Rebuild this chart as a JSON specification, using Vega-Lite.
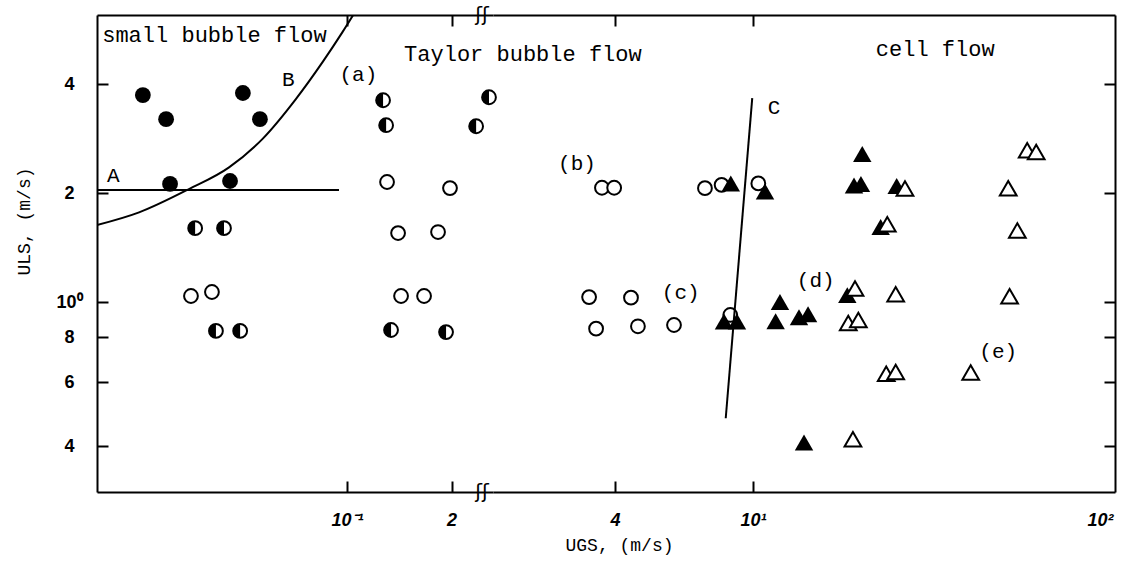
{
  "$schema": "https://vega.github.io/schema/vega-lite/v6.json",
  "autosize": {"type": "pad"},
  "padding": {"left": 15, "top": 5, "right": 5, "bottom": 5},
  "background": "white",
  "spacing": 0,
  "bounds": "flush",
  "datasets": {
    "pts": [
      {"seg": "L", "type": "full", "x": 0.0258, "y": 3.73},
      {"seg": "L", "type": "full", "x": 0.0301, "y": 3.20},
      {"seg": "L", "type": "full", "x": 0.0501, "y": 3.78},
      {"seg": "L", "type": "full", "x": 0.0561, "y": 3.20},
      {"seg": "L", "type": "full", "x": 0.0309, "y": 2.12},
      {"seg": "L", "type": "full", "x": 0.0460, "y": 2.16},
      {"seg": "L", "type": "half", "x": 0.0365, "y": 1.60},
      {"seg": "L", "type": "half", "x": 0.0442, "y": 1.60},
      {"seg": "L", "type": "half", "x": 0.0419, "y": 0.832},
      {"seg": "L", "type": "half", "x": 0.0492, "y": 0.832},
      {"seg": "L", "type": "half", "x": 0.127, "y": 3.61},
      {"seg": "L", "type": "half", "x": 0.1296, "y": 3.08},
      {"seg": "L", "type": "half", "x": 0.2565, "y": 3.68},
      {"seg": "L", "type": "half", "x": 0.2355, "y": 3.06},
      {"seg": "L", "type": "half", "x": 0.1339, "y": 0.837},
      {"seg": "L", "type": "half", "x": 0.1929, "y": 0.826},
      {"seg": "L", "type": "open", "x": 0.0355, "y": 1.039},
      {"seg": "L", "type": "open", "x": 0.0408, "y": 1.066},
      {"seg": "L", "type": "open", "x": 0.1304, "y": 2.146},
      {"seg": "L", "type": "open", "x": 0.198, "y": 2.065},
      {"seg": "L", "type": "open", "x": 0.1403, "y": 1.551},
      {"seg": "L", "type": "open", "x": 0.1829, "y": 1.561},
      {"seg": "L", "type": "open", "x": 0.1431, "y": 1.039},
      {"seg": "L", "type": "open", "x": 0.1667, "y": 1.039},
      {"seg": "R", "type": "open", "x": 3.67, "y": 2.069},
      {"seg": "R", "type": "open", "x": 3.98, "y": 2.069},
      {"seg": "R", "type": "open", "x": 7.27, "y": 2.064},
      {"seg": "R", "type": "open", "x": 8.12, "y": 2.108},
      {"seg": "R", "type": "open", "x": 10.36, "y": 2.127},
      {"seg": "R", "type": "open", "x": 3.37, "y": 1.032},
      {"seg": "R", "type": "open", "x": 4.45, "y": 1.028},
      {"seg": "R", "type": "open", "x": 3.53, "y": 0.844},
      {"seg": "R", "type": "open", "x": 4.66, "y": 0.857},
      {"seg": "R", "type": "open", "x": 5.92, "y": 0.864},
      {"seg": "R", "type": "open", "x": 8.6, "y": 0.921},
      {"seg": "R", "type": "tri", "x": 8.63, "y": 2.125},
      {"seg": "R", "type": "tri", "x": 10.83, "y": 2.021},
      {"seg": "R", "type": "tri", "x": 8.25, "y": 0.884},
      {"seg": "R", "type": "tri", "x": 8.99, "y": 0.884},
      {"seg": "R", "type": "tri", "x": 11.62, "y": 0.885},
      {"seg": "R", "type": "tri", "x": 11.96, "y": 1.0},
      {"seg": "R", "type": "tri", "x": 13.57, "y": 0.908},
      {"seg": "R", "type": "tri", "x": 14.41, "y": 0.925},
      {"seg": "R", "type": "tri", "x": 14.03, "y": 0.409},
      {"seg": "R", "type": "tri", "x": 18.7, "y": 1.045},
      {"seg": "R", "type": "tri", "x": 20.65, "y": 2.563},
      {"seg": "R", "type": "tri", "x": 19.55, "y": 2.098},
      {"seg": "R", "type": "tri", "x": 20.47, "y": 2.118},
      {"seg": "R", "type": "tri", "x": 25.95, "y": 2.093},
      {"seg": "R", "type": "tri", "x": 23.33, "y": 1.612},
      {"seg": "R", "type": "otri", "x": 27.42, "y": 2.059},
      {"seg": "R", "type": "otri", "x": 24.38, "y": 1.640},
      {"seg": "R", "type": "otri", "x": 19.68, "y": 1.090},
      {"seg": "R", "type": "otri", "x": 25.78, "y": 1.051},
      {"seg": "R", "type": "otri", "x": 18.82, "y": 0.875},
      {"seg": "R", "type": "otri", "x": 20.12, "y": 0.892},
      {"seg": "R", "type": "otri", "x": 24.21, "y": 0.634},
      {"seg": "R", "type": "otri", "x": 25.78, "y": 0.641},
      {"seg": "R", "type": "otri", "x": 42.41, "y": 0.639},
      {"seg": "R", "type": "otri", "x": 19.41, "y": 0.418},
      {"seg": "R", "type": "otri", "x": 54.4, "y": 2.064},
      {"seg": "R", "type": "otri", "x": 57.8, "y": 1.577},
      {"seg": "R", "type": "otri", "x": 54.9, "y": 1.038},
      {"seg": "R", "type": "otri", "x": 61.7, "y": 2.625},
      {"seg": "R", "type": "otri", "x": 65.5, "y": 2.597}
    ],
    "lines": [
      {"seg": "L", "line": "A", "ord": 1, "x": 0.01903, "y": 2.04},
      {"seg": "L", "line": "A", "ord": 2, "x": 0.0948, "y": 2.04},
      {"seg": "L", "line": "B", "ord": 1, "x": 0.01903, "y": 1.632},
      {"seg": "L", "line": "B", "ord": 2, "x": 0.02516, "y": 1.769},
      {"seg": "L", "line": "B", "ord": 3, "x": 0.03504, "y": 2.052},
      {"seg": "L", "line": "B", "ord": 4, "x": 0.0457, "y": 2.356},
      {"seg": "L", "line": "B", "ord": 5, "x": 0.057, "y": 2.82},
      {"seg": "L", "line": "B", "ord": 6, "x": 0.0712, "y": 3.638},
      {"seg": "L", "line": "B", "ord": 7, "x": 0.0849, "y": 4.594},
      {"seg": "L", "line": "B", "ord": 8, "x": 0.0969, "y": 5.56},
      {"seg": "L", "line": "B", "ord": 9, "x": 0.1062, "y": 6.4},
      {"seg": "R", "line": "C", "ord": 1, "x": 9.95, "y": 3.66},
      {"seg": "R", "line": "C", "ord": 2, "x": 8.345, "y": 0.4775}
    ],
    "regions": [
      {"seg": "L", "text": "small bubble flow", "x": 0.0197, "y": 5.47},
      {"seg": "L", "text": "Taylor bubble flow", "x": 0.146, "y": 4.84},
      {"seg": "R", "text": "cell flow", "x": 22.6, "y": 5.0}
    ],
    "tags": [
      {"seg": "L", "text": "(a)", "x": 0.1078, "y": 4.24},
      {"seg": "L", "text": "A", "x": 0.0212, "y": 2.235},
      {"seg": "L", "text": "B", "x": 0.0677, "y": 4.11},
      {"seg": "R", "text": "(b)", "x": 3.11, "y": 2.41},
      {"seg": "R", "text": "(c)", "x": 6.19, "y": 1.056},
      {"seg": "R", "text": "(d)", "x": 15.16, "y": 1.146},
      {"seg": "R", "text": "(e)", "x": 50.9, "y": 0.727},
      {"seg": "R", "text": "C", "x": 11.5, "y": 3.43}
    ],
    "brk": [
      {"x": 0.245, "y": 0.2986},
      {"x": 0.245, "y": 6.21}
    ]
  },
  "hconcat": [
    {
      "width": 396,
      "height": 477,
      "encoding": {
        "x": {"field": "x", "type": "quantitative", "scale": {"type": "log", "domain": [0.01903, 0.2634], "nice": false}, "axis": null},
        "y": {
          "field": "y", "type": "quantitative",
          "scale": {"type": "log", "domain": [0.2986, 6.21], "nice": false},
          "axis": {
            "orient": "left", "values": [0.4, 0.6, 0.8, 1, 2, 4], "tickSize": -11, "labelPadding": 39,
            "labelAlign": "center",
            "labelExpr": "datum.value === 1 ? '10⁰' : datum.value > 1 ? format(datum.value, 'd') : format(datum.value * 10, '.0f')",
            "title": "ULS, (m/s)", "titleX": -73, "titleY": 206, "titleAlign": "center", "titleBaseline": "middle"
          }
        }
      },
      "layer": [
        {
          "data": {"name": "pts"},
          "transform": [{"filter": "datum.seg === 'L' && datum.type !== 'full'"}],
          "mark": {"type": "point", "shape": "circle", "filled": true, "fill": "white", "stroke": "black", "strokeWidth": 2, "size": 190, "opacity": 1},
          "encoding": {
            "x": {"field": "x", "type": "quantitative", "scale": {"type": "log", "domain": [0.01903, 0.2634], "nice": false},
              "axis": {
                "orient": "bottom", "values": [0.1, 0.2], "tickSize": -11, "labelPadding": 30, "labelFontStyle": "italic",
                "labelExpr": "datum.value === 0.1 ? '10⁻¹' : '2'",
                "title": "UGS, (m/s)", "titleX": 522, "titleY": 44, "titleAlign": "center", "titleBaseline": "top"
              }}
          }
        },
        {
          "data": {"name": "pts"},
          "transform": [{"filter": "datum.seg === 'L' && datum.type === 'full'"}],
          "mark": {"type": "point", "shape": "circle", "filled": true, "color": "black", "size": 250, "opacity": 1}
        },
        {
          "data": {"name": "pts"},
          "transform": [{"filter": "datum.seg === 'L' && datum.type === 'half'"}],
          "mark": {"type": "point", "shape": "M0,-1A1,1,0,0,0,0,1Z", "filled": true, "color": "black", "size": 190, "opacity": 1}
        },
        {
          "data": {"name": "lines"},
          "transform": [{"filter": "datum.seg === 'L'"}],
          "mark": {"type": "line", "color": "black", "strokeWidth": 2, "clip": true, "interpolate": "monotone"},
          "encoding": {
            "x": {"field": "x", "type": "quantitative", "scale": {"type": "log", "domain": [0.01903, 0.2634], "nice": false},
              "axis": {"orient": "top", "values": [0.1, 0.2], "tickSize": -11, "labels": false, "title": null}},
            "detail": {"field": "line"},
            "order": {"field": "ord"}
          }
        },
        {
          "data": {"name": "regions"},
          "transform": [{"filter": "datum.seg === 'L'"}],
          "mark": {"type": "text", "align": "left", "baseline": "middle", "font": "Liberation Mono", "fontSize": 22, "color": "black"},
          "encoding": {"text": {"field": "text"}}
        },
        {
          "data": {"name": "tags"},
          "transform": [{"filter": "datum.seg === 'L'"}],
          "mark": {"type": "text", "align": "center", "baseline": "middle", "font": "Liberation Mono", "fontSize": 21, "color": "black"},
          "encoding": {"text": {"field": "text"}}
        },
        {
          "data": {"name": "brk"},
          "mark": {"type": "text", "align": "center", "baseline": "middle", "font": "DejaVu Sans", "fontSize": 20, "color": "black", "text": "ʃʃ"}
        }
      ],
      "resolve": {"axis": {"x": "independent"}}
    },
    {
      "width": 622,
      "height": 477,
      "encoding": {
        "x": {"field": "x", "type": "quantitative", "scale": {"type": "log", "domain": [1.781, 110.5], "nice": false}, "axis": null},
        "y": {
          "field": "y", "type": "quantitative",
          "scale": {"type": "log", "domain": [0.2986, 6.21], "nice": false},
          "axis": {"orient": "right", "values": [0.4, 0.6, 0.8, 1, 2, 4], "tickSize": -11, "labels": false, "title": null}
        }
      },
      "layer": [
        {
          "data": {"name": "pts"},
          "transform": [{"filter": "datum.seg === 'R' && datum.type === 'open'"}],
          "mark": {"type": "point", "shape": "circle", "filled": true, "fill": "white", "stroke": "black", "strokeWidth": 2, "size": 190, "opacity": 1},
          "encoding": {
            "x": {"field": "x", "type": "quantitative", "scale": {"type": "log", "domain": [1.781, 110.5], "nice": false},
              "axis": {
                "orient": "bottom", "values": [4, 10, 100], "tickSize": -11, "labelPadding": 30, "labelFontStyle": "italic",
                "tickColor": {"condition": {"test": "datum.value === 100", "value": "transparent"}, "value": "black"},
                "labelExpr": "datum.value === 10 ? '10¹' : datum.value === 100 ? '10²' : '4'",
                "title": null
              }}
          }
        },
        {
          "data": {"name": "pts"},
          "transform": [{"filter": "datum.seg === 'R' && datum.type === 'tri'"}],
          "mark": {"type": "point", "shape": "triangle-up", "filled": true, "color": "black", "size": 340, "opacity": 1}
        },
        {
          "data": {"name": "pts"},
          "transform": [{"filter": "datum.seg === 'R' && datum.type === 'otri'"}],
          "mark": {"type": "point", "shape": "triangle-up", "filled": true, "fill": "white", "stroke": "black", "strokeWidth": 2, "size": 280, "opacity": 1}
        },
        {
          "data": {"name": "lines"},
          "transform": [{"filter": "datum.seg === 'R'"}],
          "mark": {"type": "line", "color": "black", "strokeWidth": 2, "clip": true},
          "encoding": {
            "x": {"field": "x", "type": "quantitative", "scale": {"type": "log", "domain": [1.781, 110.5], "nice": false},
              "axis": {"orient": "top", "values": [4, 10], "tickSize": -11, "labels": false, "title": null}},
            "detail": {"field": "line"},
            "order": {"field": "ord"}
          }
        },
        {
          "data": {"name": "regions"},
          "transform": [{"filter": "datum.seg === 'R'"}],
          "mark": {"type": "text", "align": "left", "baseline": "middle", "font": "Liberation Mono", "fontSize": 22, "color": "black"},
          "encoding": {"text": {"field": "text"}}
        },
        {
          "data": {"name": "tags"},
          "transform": [{"filter": "datum.seg === 'R'"}],
          "mark": {"type": "text", "align": "center", "baseline": "middle", "font": "Liberation Mono", "fontSize": 21, "color": "black"},
          "encoding": {"text": {"field": "text"}}
        }
      ],
      "resolve": {"axis": {"x": "independent"}}
    }
  ],
  "config": {
    "view": {"stroke": null},
    "axis": {
      "domainColor": "black", "domainWidth": 2, "tickColor": "black", "tickWidth": 2, "grid": false,
      "labelColor": "black", "labelFont": "Liberation Sans", "labelFontSize": 18, "labelFontWeight": "bold",
      "titleColor": "black", "titleFont": "Liberation Mono", "titleFontSize": 18, "titleFontWeight": "normal"
    }
  }
}
